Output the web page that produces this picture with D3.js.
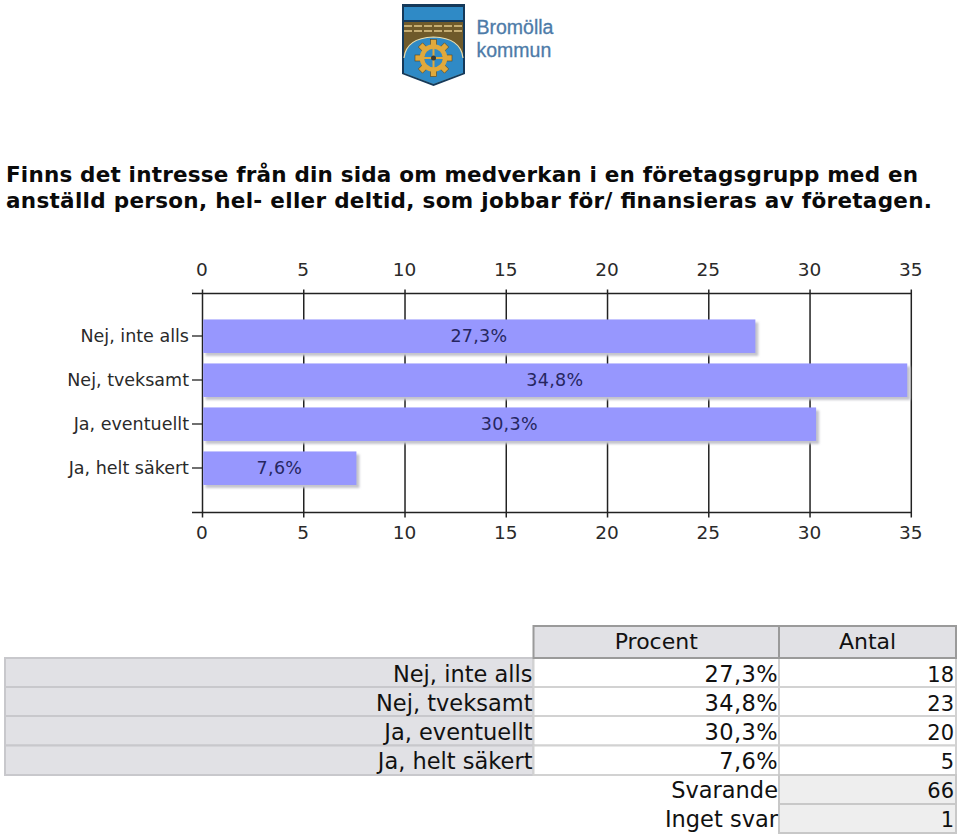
<!DOCTYPE html>
<html><head><meta charset="utf-8">
<script src="https://cdnjs.cloudflare.com/ajax/libs/d3/7.8.5/d3.min.js"></script>
<style>html,body{margin:0;padding:0;background:#fff}svg{display:block}</style>
</head><body><div id="c"></div>
<script>
const titleLines=["Finns det intresse från din sida om medverkan i en företagsgrupp med en","anställd person, hel- eller deltid, som jobbar för/ finansieras av företagen."];
const titleWidths=[912,926];
const categories=["Nej, inte alls","Nej, tveksamt","Ja, eventuellt","Ja, helt säkert"];
const percents=[27.3,34.8,30.3,7.6];
const percentLabels=["27,3%","34,8%","30,3%","7,6%"];
const counts=[18,23,20,5];
const tickValues=[0,5,10,15,20,25,30,35];
const footerLabels=["Svarande","Inget svar"];
const footerValues=[66,1];
const tableHeaders=["Procent","Antal"];

const W=960,H=836;
const svg=d3.select("#c").append("svg").attr("width",W).attr("height",H);
const vf="Verdana,'DejaVu Sans',sans-serif";
const defs=svg.append("defs");
defs.append("filter").attr("id","soft").append("feGaussianBlur").attr("stdDeviation",0.9);

// Logo
const logo=svg.append("g");
logo.append("path").attr("d","M402,4H465V74L433.5,86L402,74Z").attr("fill","#15395a");
logo.append("path").attr("d","M404,7H463V20H404Z").attr("fill","#2f8ac6");
logo.append("path").attr("d","M404,22H463V73L433.5,84L404,73Z").attr("fill","#6f5a2a");
logo.append("path").attr("d","M404,58Q406,38 433.5,37Q461,38 463,58V73L433.5,84L404,73Z").attr("fill","#2f8ac6");
logo.append("path").attr("d","M404,58Q406,38 433.5,37Q461,38 463,58").attr("fill","none").attr("stroke","#e7dcae").attr("stroke-width",1.2);
[26,31].forEach(y=>logo.append("line").attr("x1",404).attr("x2",463).attr("y1",y).attr("y2",y).attr("stroke","#e2c98a").attr("stroke-width",1.5).attr("stroke-dasharray","8 2"));
const gear=logo.append("g").attr("transform","translate(433.5,58)");
d3.range(8).forEach(i=>gear.append("rect").attr("x",-3).attr("y",-18.5).attr("width",6).attr("height",9).attr("fill","#e0a93c").attr("stroke","#5b431a").attr("stroke-width",.6).attr("transform",`rotate(${i*45})`));
gear.append("circle").attr("r",11.5).attr("fill","none").attr("stroke","#e0a93c").attr("stroke-width",4.5);
gear.append("line").attr("x1",-11).attr("x2",11).attr("stroke","#e0a93c").attr("stroke-width",2);
gear.append("line").attr("y1",-11).attr("y2",11).attr("stroke","#e0a93c").attr("stroke-width",2);
gear.append("circle").attr("r",2.5).attr("fill","#3d3a2e");
[["Bromölla",34.3],["kommun",57]].forEach(([s,yy])=>logo.append("text").attr("x",476.5).attr("y",yy).text(s).attr("font-family","'Liberation Sans',sans-serif").attr("font-size",19.5).attr("stroke","#4d7ba8").attr("stroke-width",.3).attr("fill","#4d7ba8"));

// Title
svg.append("g").selectAll("text").data(titleLines).join("text")
 .attr("x",6).attr("y",(d,i)=>182+i*26).text(d=>d)
 .attr("textLength",(d,i)=>titleWidths[i]).attr("lengthAdjust","spacing")
 .attr("font-family",vf).attr("font-weight","bold").attr("font-size",21.5).attr("fill","#0a0a0a");

// Chart
const x=d3.scaleLinear().domain([0,35]).range([202.5,911.3]);
const y=d3.scaleBand().domain(categories).range([314,490]).padding(0);
const axisTop=293.5,axisBot=512.5;
const chart=svg.append("g");
chart.append("g").selectAll("line").data(tickValues).join("line")
 .attr("x1",d=>x(d)).attr("x2",d=>x(d)).attr("y1",axisTop-4).attr("y2",axisBot+5).attr("stroke","#222").attr("stroke-width",1.5);
[axisTop,axisBot].forEach(v=>chart.append("line").attr("x1",192).attr("x2",x(35)).attr("y1",v).attr("y2",v).attr("stroke","#222").attr("stroke-width",1.3));
const bh=33.5;
const by=c=>y(c)+y.bandwidth()/2-bh/2+.2;
chart.append("g").selectAll("line").data(categories).join("line")
 .attr("x1",192).attr("x2",x(0)).attr("y1",c=>y(c)+y.bandwidth()/2).attr("y2",c=>y(c)+y.bandwidth()/2).attr("stroke","#222").attr("stroke-width",1.3);
chart.append("g").selectAll("rect").data(categories).join("rect")
 .attr("x",x(0)+3).attr("y",c=>by(c)+3).attr("width",(c,i)=>x(percents[i])-x(0)).attr("height",bh)
 .attr("fill","#c4c4cc").attr("filter","url(#soft)");
chart.append("g").selectAll("rect").data(categories).join("rect")
 .attr("x",x(0)+.7).attr("y",by).attr("width",(c,i)=>x(percents[i])-x(0)-.7).attr("height",bh).attr("fill","#9797fe");
const chartText=(sel,size)=>sel.attr("font-family",vf).attr("font-size",size).attr("fill","#2a2a2a");
chartText(chart.append("g").selectAll("text").data(categories).join("text")
 .attr("x",189).attr("y",c=>y(c)+y.bandwidth()/2+5.5).attr("text-anchor","end").text(c=>c),17.5);
chartText(chart.append("g").selectAll("text").data(categories).join("text")
 .attr("x",(c,i)=>(x(0)+x(percents[i]))/2).attr("y",c=>y(c)+y.bandwidth()/2+5.5).attr("text-anchor","middle").text((c,i)=>percentLabels[i]),17.5).attr("letter-spacing",.3).attr("fill","#262660");
[276,539].forEach(v=>chartText(chart.append("g").selectAll("text").data(tickValues).join("text")
 .attr("x",d=>x(d)-.5).attr("y",v).attr("text-anchor","middle").text(d=>d),18.5));

// Table
const colX=[5,533.5,779,956];
const rowY=[658,687,716,745.5,775];
const fY=[775,804,833];
const t=svg.append("g");
const labels=svg.append("g");
const tFont=(s,size)=>s.attr("font-family",vf).attr("font-size",size).attr("fill","#111");
const cell=(x0,y0,x1,y1,fill,stroke,w)=>t.append("rect").attr("x",x0).attr("y",y0).attr("width",x1-x0).attr("height",y1-y0).attr("fill",fill).attr("stroke",stroke).attr("stroke-width",w);
categories.forEach((c,i)=>{
 const y0=rowY[i],y1=rowY[i+1];
 cell(colX[0],y0,colX[1],y1,"#e1e1e5","#c8c8cc",2);
 cell(colX[1],y0,colX[2],y1,"#fff","#d2d2d2",2);
 cell(colX[2],y0,colX[3],y1,"#fff","#d2d2d2",2);
 tFont(labels.append("text").attr("x",colX[1]-1).attr("y",y0+23.5).attr("text-anchor","end").text(c),22.5);
 tFont(labels.append("text").attr("x",colX[2]-1).attr("y",y0+23.5).attr("text-anchor","end").text(percentLabels[i]),22.5).attr("letter-spacing",.4);
 tFont(labels.append("text").attr("x",colX[3]-2).attr("y",y0+23.5).attr("text-anchor","end").text(counts[i]),21);
});
footerLabels.forEach((l,i)=>{
 cell(colX[2],fY[i],colX[3],fY[i+1],"#eeeeee","#c8c8c8",2);
 tFont(labels.append("text").attr("x",colX[2]-1).attr("y",fY[i]+23).attr("text-anchor","end").text(l),22.5);
 tFont(labels.append("text").attr("x",colX[3]-2).attr("y",fY[i]+23).attr("text-anchor","end").text(footerValues[i]),21);
});
tableHeaders.forEach((h,i)=>{
 cell(colX[i+1],626,colX[i+2],658,"#e1e1e5","#9a9a9a",2);
 tFont(labels.append("text").attr("x",(colX[i+1]+colX[i+2])/2).attr("y",649).attr("text-anchor","middle").text(h),22);
});
</script></body></html>
